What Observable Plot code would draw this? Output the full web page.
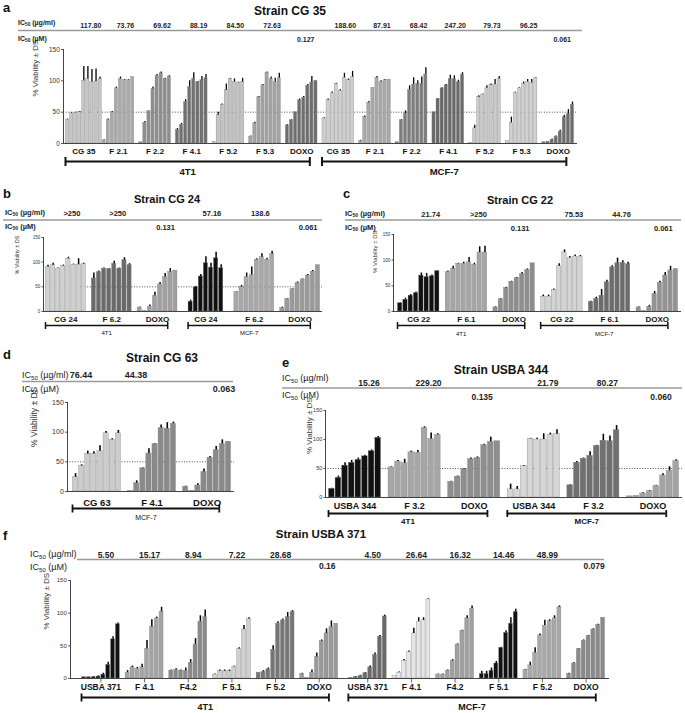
<!DOCTYPE html>
<html><head><meta charset="utf-8">
<script src="https://cdn.jsdelivr.net/npm/d3@7"></script>
<script src="https://cdn.jsdelivr.net/npm/@observablehq/plot@0.6"></script>
<style>
body{margin:0;background:#fff;}
#fig{position:relative;width:685px;height:713px;overflow:hidden;background:#fff;}
.panel{position:absolute;}
#overlay{position:absolute;left:0;top:0;}
</style></head><body><div id="fig"></div>
<script>
const FONT = '"Liberation Sans", Arial, Helvetica, sans-serif';

// ---------- DATA ----------
const panelTitles = ["Strain CG 35", "Strain CG 24", "Strain CG 22", "Strain CG 63", "Strain USBA 344", "Strain USBA 371"];
const yTicks = [0, 50, 100, 150];

// Panel a
const aGroups = ["CG 35","F 2.1","F 2.2","F 4.1","F 5.2","F 5.3","DOXO","CG 35","F 2.1","F 2.2","F 4.1","F 5.2","F 5.3","DOXO"];
const aCells = ["4T1","4T1","4T1","4T1","4T1","4T1","4T1","MCF-7","MCF-7","MCF-7","MCF-7","MCF-7","MCF-7","MCF-7"];
const aValues = [
  [38,48,49,50,100,103,98,99,103],
  [5,38,50,88,103,101,101,106],
  [2,33,52,87,108,112,103,107],
  [22,30,66,90,103,98,101,104],
  [3,45,62,85,103,98,97,98],
  [11,32,74,93,113,103,98,104],
  [29,37,50,69,73,92,97,100],
  [40,69,80,95,84,105,101,106],
  [4,42,65,89,105,98,101,102],
  [2,37,48,85,94,95,95,110],
  [50,71,88,93,103,103,98,110],
  [1,24,74,78,88,93,94,103],
  [4,33,81,88,95,98,97,104],
  [2,3,6,11,19,42,47,62]
];
const aErrors = [
  [1,1,1,1,23,20,20,20,3],
  [1,1,1,2,3,1,1,0],
  [0,2,0,3,2,2,1,1],
  [2,2,4,10,10,1,6,6],
  [0,5,1,10,1,5,1,6],
  [1,2,1,1,1,3,6,8],
  [1,1,0,2,2,2,10,0],
  [1,2,2,1,2,7,2,9],
  [1,2,2,0,2,2,1,0],
  [0,1,4,7,11,5,11,11],
  [0,1,1,1,6,5,3,3],
  [0,5,2,1,4,2,8,4],
  [0,9,1,1,3,4,5,1],
  [0,0,1,1,2,3,7,4]
];
const aColors = ["#c6c6c6","#a9a9a9","#8e8e8e","#707070","#c3c3c3","#a3a3a3","#6e6e6e","#cfcfcf","#a9a9a9","#7d7d7d","#696969","#cacaca","#d0d0d0","#6c6c6c"];
const aIC50ug = ["117.80","73.76","69.62","88.19","84.50","72.63","188.60","87.91","68.42","247.20","79.73","96.25"];
const aIC50uM = ["0.127","0.061"];

// Panel b
const bGroups = ["CG 24","F 6.2","DOXO","CG 24","F 6.2","DOXO"];
const bCells = ["4T1","4T1","4T1","MCF-7","MCF-7","MCF-7"];
const bValues = [
  [90,94,87,92,107,95,95,96],
  [67,80,87,86,97,87,104,94],
  [8,1,10,32,55,70,80,83],
  [20,49,71,98,89,108,88],
  [39,50,70,74,105,110,105,116],
  [7,25,45,58,65,73,81,94]
];
const bErrors = [
  [4,4,1,2,3,1,12,2],
  [11,2,1,1,5,1,5,3],
  [1,0,3,7,4,7,7,0],
  [3,2,4,13,9,12,7],
  [1,3,8,16,2,7,3,6],
  [2,1,1,2,1,2,2,0]
];
const bColors = ["#d0d0d0","#6a6a6a","#a0a0a0","#111111","#a8a8a8","#9a9a9a"];
const bIC50ug = [">250",">250","57.16","138.6"];
const bIC50uM = ["0.131","0.061"];

// Panel c
const cGroups = ["CG 22","F 6.1","DOXO","CG 22","F 6.1","DOXO"];
const cCells = ["4T1","4T1","4T1","MCF-7","MCF-7","MCF-7"];
const cValues = [
  [16,23,31,36,70,67,69,79],
  [77,83,93,93,96,91,115,115],
  [8,24,46,58,65,73,81,94],
  [29,29,42,88,115,104,107,107],
  [19,25,31,57,86,94,95,92],
  [8,1,9,34,56,70,80,83]
];
const cErrors = [
  [1,3,2,2,5,7,2,0],
  [2,5,1,3,9,3,11,12],
  [1,1,1,1,1,3,2,0],
  [3,3,2,5,5,3,3,2],
  [1,3,12,4,3,10,4,4],
  [1,0,3,5,3,6,8,0]
];
const cColors = ["#111111","#a6a6a6","#8e8e8e","#d4d4d4","#6c6c6c","#939393"];
const cIC50ug = ["21.74",">250","75.53","44.76"];
const cIC50uM = ["0.131","0.061"];

// Panel d
const dGroups = ["CG 63","F 4.1","DOXO"];
const dCells = ["MCF-7","MCF-7","MCF-7"];
const dValues = [
  [24,43,63,63,68,98,87,98],
  [1,14,39,64,80,107,106,114],
  [8,1,10,33,57,70,80,84]
];
const dErrors = [
  [6,2,5,4,9,3,2,5],
  [0,4,1,8,1,5,10,3],
  [1,0,3,5,2,6,7,0]
];
const dColors = ["#cccccc","#8a8a8a","#8a8a8a"];
const dIC50ug = ["76.44","44.38"];
const dIC50uM = ["0.063"];

// Panel e
const eGroups = ["USBA 344","F 3.2","DOXO","USBA 344","F 3.2","DOXO"];
const eCells = ["4T1","4T1","4T1","MCF-7","MCF-7","MCF-7"];
const eValues = [
  [15,34,55,60,65,71,80,103],
  [52,62,59,78,77,120,101,108],
  [27,36,49,66,68,90,96,97],
  [14,14,54,101,100,100,108,109],
  [21,60,67,72,89,98,97,116],
  [2,3,7,11,20,38,46,63]
];
const eErrors = [
  [1,3,5,4,3,2,2,2],
  [1,2,7,2,4,2,10,2],
  [1,1,1,2,2,2,8,0],
  [9,5,1,1,2,10,3,8],
  [1,2,1,7,1,11,9,8],
  [0,0,1,1,1,3,7,2]
];
const eColors = ["#111111","#a6a6a6","#8e8e8e","#d6d6d6","#707070","#a4a4a4"];
const eIC50ug = ["15.26","229.20","21.79","80.27"];
const eIC50uM = ["0.135","0.060"];

// Panel f
const fGroups = ["USBA 371","F 4.1","F4.2","F 5.1","F 5.2","DOXO","USBA 371","F 4.1","F4.2","F 5.1","F 5.2","DOXO"];
const fCells = ["4T1","4T1","4T1","4T1","4T1","4T1","MCF-7","MCF-7","MCF-7","MCF-7","MCF-7","MCF-7"];
const fValues = [
  [2,2,2,3,6,21,60,83],
  [9,17,15,17,45,79,92,102],
  [12,13,12,12,24,52,87,94],
  [6,11,11,11,18,45,75,91],
  [9,10,14,44,84,89,94,102],
  [7,1,9,33,57,69,79,84],
  [1,2,4,8,17,36,64,95],
  [4,9,27,40,69,87,89,121],
  [6,6,12,27,52,73,92,107],
  [7,7,12,23,47,70,84,102],
  [13,20,39,66,81,88,92,109],
  [7,23,45,58,65,75,82,93]
];
const fErrors = [
  [0,0,1,1,2,4,4,2],
  [3,2,2,5,13,11,2,7],
  [1,2,1,4,5,9,9,11],
  [1,2,2,2,1,2,6,2],
  [0,2,2,6,3,2,7,2],
  [1,0,4,6,2,7,9,0],
  [0,1,1,1,2,3,2,2],
  [0,1,2,2,8,6,4,1],
  [1,1,1,2,1,1,4,4],
  [4,4,4,3,1,3,9,4],
  [1,5,8,2,8,2,4,2],
  [1,1,1,1,1,1,1,0]
];
const fColors = ["#111111","#a4a4a4","#8a8a8a","#d0d0d0","#767676","#9a9a9a","#6a6a6a","#e6e6e6","#a0a0a0","#111111","#a8a8a8","#8a8a8a"];
const fIC50ug = ["5.50","15.17","8.94","7.22","28.68","4.50","26.64","16.32","14.46","48.99"];
const fIC50uM = ["0.16","0.079"];

// ---------- LAYOUT ----------
const panels = [
  {groups:aGroups, cells:aCells, values:aValues, errors:aErrors, colors:aColors, ug:aIC50ug, uM:aIC50uM,
   box:{left:0,top:0,width:600,height:180}, axisX:63, rightX:577, firstBarX:65, lastBarX:574, y0:143, y150:49, extraGap:0,
   tickFont:6.5, tickLen:2.5, yLabelFont:8, yLabelOff:28, catFont:8, catDy:8, brDy:18, brW:2, capH:4.5, cellDy:28, cellFont:9.5, cellWeight:"bold",
   valFont:7, ugY:25, uMY:39, ugDx:7, uMDx:4, errW:1.3, dotted:true, ticksX:false},
  {groups:bGroups, cells:bCells, values:bValues, errors:bErrors, colors:bColors, ug:bIC50ug, uM:bIC50uM,
   box:{left:0,top:185,width:335,height:160}, axisX:43, rightX:322, firstBarX:45, lastBarX:320, y0:311, y150:237, extraGap:1,
   tickFont:4.5, tickLen:2, yLabelFont:5.5, yLabelOff:26, catFont:8, catDy:8, brDy:14, brW:1.5, capH:3.5, cellDy:22, cellFont:6, cellWeight:"normal",
   valFont:7.5, ugY:213, uMY:227, ugDx:6, uMDx:8, errW:1.5, dotted:true, ticksX:false},
  {groups:cGroups, cells:cCells, values:cValues, errors:cErrors, colors:cColors, ug:cIC50ug, uM:cIC50uM,
   box:{left:338,top:185,width:347,height:160}, axisX:393, rightX:681, firstBarX:397, lastBarX:678, y0:311, y150:234, extraGap:0,
   tickFont:4.5, tickLen:2, yLabelFont:6, yLabelOff:18, catFont:8, catDy:8, brDy:14, brW:1.5, capH:3.5, cellDy:23, cellFont:6, cellWeight:"normal",
   valFont:7.5, ugY:214, uMY:228, ugDx:12, uMDx:6, errW:1.5, dotted:false, ticksX:false},
  {groups:dGroups, cells:dCells, values:dValues, errors:dErrors, colors:dColors, ug:dIC50ug, uM:dIC50uM,
   box:{left:0,top:350,width:250,height:178}, axisX:67, rightX:234, firstBarX:72, lastBarX:231, y0:491, y150:402, extraGap:0,
   tickFont:7, tickLen:2.5, yLabelFont:8.5, yLabelOff:33, catFont:9.5, catDy:11, brDy:17, brW:1.8, capH:4, cellDy:26, cellFont:7, cellWeight:"normal",
   valFont:9, ugY:375, uMY:389, ugDx:-16, uMDx:17, errW:1.6, dotted:true, ticksX:false},
  {groups:eGroups, cells:eCells, values:eValues, errors:eErrors, colors:eColors, ug:eIC50ug, uM:eIC50uM,
   box:{left:268,top:350,width:417,height:178}, axisX:325, rightX:682, firstBarX:328, lastBarX:679, y0:497, y150:410, extraGap:0,
   tickFont:5.5, tickLen:2, yLabelFont:8, yLabelOff:16, catFont:9, catDy:9, brDy:16, brW:1.8, capH:3.5, cellDy:24, cellFont:8, cellWeight:"bold",
   valFont:8.5, ugY:383, uMY:397, ugDx:14, uMDx:8, errW:1.6, dotted:true, ticksX:false},
  {groups:fGroups, cells:fCells, values:fValues, errors:fErrors, colors:fColors, ug:fIC50ug, uM:fIC50uM,
   box:{left:0,top:530,width:685,height:183}, axisX:70, rightX:609, firstBarX:81, lastBarX:605, y0:678, y150:580, extraGap:1,
   tickFont:6, tickLen:2.5, yLabelFont:8, yLabelOff:24, catFont:8.5, catDy:9, brDy:19, brW:1.8, capH:4, cellDy:29, cellFont:9, cellWeight:"bold",
   valFont:8.5, ugY:555, uMY:566, ugDx:5, uMDx:8, errW:1.5, dotted:false, ticksX:true}
];

const overlaySpec = [
  {letter:"a", lx:3, ly:12, tx:290, ty:15, tf:12, icx:18, ugy:24.5, umy:40.5, icf:7, icw:"bold", line:[18,582,30.5]},
  {letter:"b", lx:3, ly:198, tx:167, ty:203, tf:11, icx:5, ugy:214.5, umy:228.5, icf:7.5, icw:"bold", line:[3,322,220]},
  {letter:"c", lx:343, ly:198, tx:520, ty:204, tf:11, icx:345, ugy:215.5, umy:229.5, icf:7.5, icw:"bold", line:[345,681,220]},
  {letter:"d", lx:3, ly:359, tx:162, ty:362, tf:12, icx:22, ugy:378, umy:392, icf:9, icw:"normal", line:[22,233,381.5]},
  {letter:"e", lx:282, ly:367, tx:501, ty:374, tf:12, icx:282, ugy:381, umy:398, icf:9, icw:"normal", line:[282,682,388]},
  {letter:"f", lx:3, ly:540, tx:321, ty:538, tf:11.5, icx:30, ugy:557, umy:570, icf:9, icw:"normal", line:[77,604,559.5]}
];

const fig = document.getElementById("fig");

function vbar(h) { return {draw(ctx) { ctx.moveTo(0, -h); ctx.lineTo(0, h); }}; }
function hbar(len) { return {draw(ctx) { ctx.moveTo(-len, 0); ctx.lineTo(0, 0); }}; }

function buildPanel(p) {
  const n = p.groups.length;
  const cellIdx = p.cells.map(c => c === p.cells[0] ? 0 : 1);
  const starts = p.groups.map((g, i) => i * 9 + cellIdx[i] * p.extraGap);
  const bars = [];
  p.values.forEach((arr, g) => arr.forEach((v, i) => bars.push({g, slot: starts[g] + i, v, e: p.errors[g][i]})));
  const nSlots = starts[n - 1] + p.values[n - 1].length;
  const pitch = (p.lastBarX - p.firstBarX) / nSlots;
  const xDomain = [-(p.firstBarX - p.axisX) / pitch, nSlots + (p.rightX - p.lastBarX) / pitch];
  const groupInfo = p.groups.map((name, g) => ({name, g, start: starts[g], center: starts[g] + p.values[g].length / 2, cell: p.cells[g]}));
  let ui = 0, mi = 0;
  const ugLabels = [], uMLabels = [];
  groupInfo.forEach(d => {
    if (d.name === "DOXO") uMLabels.push({x: d.center, text: p.uM[mi++]});
    else ugLabels.push({x: d.center, text: p.ug[ui++]});
  });
  const cellNames = [...new Set(p.cells)];
  const brackets = cellNames.map(c => {
    const gs = groupInfo.filter(d => d.cell === c);
    return {cell: c, x1: gs[0].start, x2: gs[gs.length - 1].start + 6};
  });
  const caps = brackets.flatMap(b => [b.x1, b.x2]);
  const box = p.box;
  const chart = Plot.plot({
    width: box.width, height: box.height,
    marginLeft: p.axisX - box.left, marginRight: box.left + box.width - p.rightX,
    marginTop: p.y150 - box.top, marginBottom: box.top + box.height - p.y0,
    style: {background: "transparent", fontFamily: FONT, fontSize: p.tickFont + "px", color: "#333", overflow: "visible"},
    x: {type: "linear", domain: xDomain, axis: null},
    y: {domain: [0, 150], axis: null},
    color: {type: "ordinal", domain: d3.range(n), range: p.colors},
    marks: [
      p.dotted ? Plot.ruleY([50], {stroke: "#222", strokeWidth: 0.8, strokeDasharray: "1,1.6"}) : null,
      Plot.rect(bars, {x1: "slot", x2: d => d.slot + 1, y1: 0, y2: "v", fill: "g", stroke: "#808080", strokeWidth: 0.35, insetLeft: 0.45, insetRight: 0.45}),
      Plot.ruleX(bars.filter(d => d.e > 0), {x: d => d.slot + 0.5, y1: "v", y2: d => d.v + d.e, stroke: "#000", strokeWidth: p.errW}),
      Plot.ruleY([0], {stroke: "#444", strokeWidth: 1}),
      Plot.ruleX([xDomain[0]], {stroke: "#444", strokeWidth: 1}),
      // y axis ticks and labels
      Plot.dot(yTicks, {x: xDomain[0], y: d => d, symbol: hbar(p.tickLen), stroke: "#444", strokeWidth: 0.9, fill: "none"}),
      Plot.text(yTicks, {x: xDomain[0], y: d => d, text: d => String(d), textAnchor: "end", dx: -(p.tickLen + 1.2), fontSize: p.tickFont, fill: "#333"}),
      p.ticksX ? Plot.dot(groupInfo, {x: "center", y: 0, dy: 2, symbol: vbar(2), stroke: "#444", strokeWidth: 0.8, fill: "none"}) : null,
      Plot.text(["% Viability \u00b1 DS"], {frameAnchor: "left", rotate: -90, dx: -p.yLabelOff, fontSize: p.yLabelFont, fill: "#333"}),
      Plot.text(groupInfo, {x: "center", y: 0, dy: p.catDy, text: "name", fontSize: p.catFont, fontWeight: "bold", fill: "#111"}),
      Plot.ruleY(brackets, {x1: "x1", x2: "x2", y: 0, dy: p.brDy, stroke: "#111", strokeWidth: p.brW}),
      Plot.dot(caps, {x: d => d, y: 0, dy: p.brDy, symbol: vbar(p.capH), stroke: "#111", strokeWidth: p.brW, fill: "none"}),
      Plot.text(brackets, {x: d => (d.x1 + d.x2) / 2, y: 0, dy: p.cellDy, text: "cell", fontSize: p.cellFont, fontWeight: p.cellWeight, fill: "#111"}),
      Plot.text(ugLabels, {x: "x", y: 150, dy: p.ugY - p.y150, dx: p.ugDx, text: "text", fontSize: p.valFont, fontWeight: "bold", fill: "#222"}),
      Plot.text(uMLabels, {x: "x", y: 150, dy: p.uMY - p.y150, dx: p.uMDx, text: "text", fontSize: p.valFont, fontWeight: "bold", fill: "#222"})
    ]
  });
  const wrap = document.createElement("div");
  wrap.className = "panel";
  wrap.style.left = box.left + "px";
  wrap.style.top = box.top + "px";
  wrap.appendChild(chart);
  fig.appendChild(wrap);
}

panels.forEach(buildPanel);

// ---------- OVERLAY (letters, titles, IC50 labels, header rules) ----------
const ov = d3.select(fig).append("svg").attr("id", "overlay").attr("width", 685).attr("height", 713)
  .style("font-family", FONT);
function ic50(x, y, unit, size, weight) {
  const t = ov.append("text").attr("x", x).attr("y", y).attr("font-size", size).attr("font-weight", weight).attr("fill", "#222");
  t.append("tspan").text("IC");
  t.append("tspan").attr("font-size", size * 0.68).attr("dy", size * 0.25).text("50");
  t.append("tspan").attr("dy", -size * 0.25).text(" (" + unit + ")");
}
overlaySpec.forEach((o, i) => {
  ov.append("line").attr("x1", o.line[0]).attr("x2", o.line[1]).attr("y1", o.line[2]).attr("y2", o.line[2])
    .attr("stroke", "#9a9a9a").attr("stroke-width", 1.5);
  ov.append("text").attr("x", o.lx).attr("y", o.ly).attr("font-size", 13).attr("font-weight", "bold").attr("fill", "#111").text(o.letter);
  ov.append("text").attr("x", o.tx).attr("y", o.ty).attr("text-anchor", "middle").attr("font-size", o.tf).attr("font-weight", "bold").attr("fill", "#111").text(panelTitles[i]);
  ic50(o.icx, o.ugy, "\u00b5g/ml", o.icf, o.icw);
  ic50(o.icx, o.umy, "\u00b5M", o.icf, o.icw);
});
</script></body></html>
